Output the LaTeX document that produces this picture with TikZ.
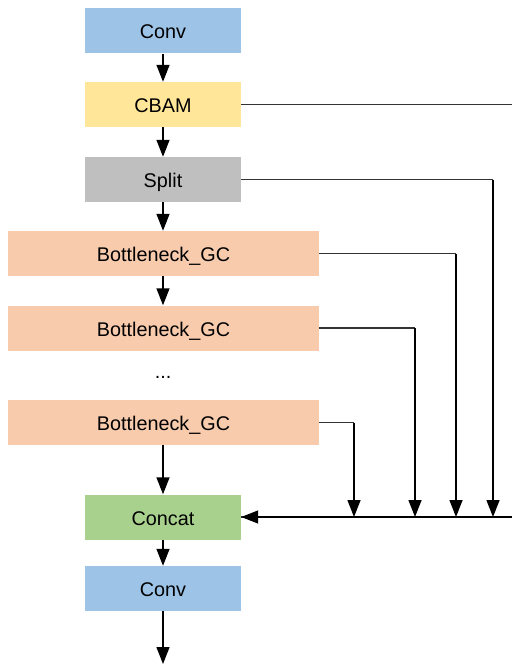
\documentclass[tikz,border=0pt]{standalone}
\usepackage{fontspec}
\setmainfont{Liberation Sans}
\usetikzlibrary{arrows.meta}
\definecolor{cblue}{HTML}{9DC3E6}
\definecolor{cyellow}{HTML}{FFE699}
\definecolor{cgrey}{HTML}{BFBFBF}
\definecolor{cpeach}{HTML}{F8CBAD}
\definecolor{cgreen}{HTML}{A9D18E}
\definecolor{cline}{HTML}{333333}
\tikzset{
  blk/.style={draw=none, minimum width=156pt, minimum height=45pt, inner sep=0pt, text height=16pt, text depth=0pt, font=\fontsize{19.8}{22}\selectfont},
  wide/.style={blk, minimum width=311pt},
  arr/.style={line width=1.4pt, draw=black, -{Triangle[width=13pt,length=17pt]}},
  bus/.style={line width=1.6pt, draw=cline},
}
\begin{document}
\begin{tikzpicture}[x=1pt,y=-1pt]
\useasboundingbox (0,0) rectangle (512,666);
\node[blk, fill=cblue] (conv1) at (163,31) {Conv};
\node[blk, fill=cyellow] (cbam) at (163,104.5) {CBAM};
\node[blk, fill=cgrey] (split) at (163,179.5) {Split};
\node[wide, fill=cpeach] (bn1) at (163.5,253.5) {Bottleneck\_GC};
\node[wide, fill=cpeach] (bn2) at (163.5,328) {Bottleneck\_GC};
\node[font=\fontsize{19.8}{22}\selectfont, inner sep=0pt] (dots) at (163,377) {...};
\node[wide, fill=cpeach] (bn3) at (163.5,422.5) {Bottleneck\_GC};
\node[blk, fill=cgreen] (concat) at (163,517) {Concat};
\node[blk, fill=cblue] (conv2) at (163,588.5) {Conv};
\coordinate (out) at (163,664);
\coordinate (cbamEnd) at (512,104.5);
\coordinate (busEnd) at (512,517);
\coordinate (d1) at (493,517);
\coordinate (d2) at (456,517);
\coordinate (d3) at (415,517);
\coordinate (d4) at (354,517);

\draw[arr] (conv1) -- (cbam);
\draw[arr] (cbam) -- (split);
\draw[arr] (split) -- (split.south |- bn1.north);
\draw[arr] (bn1.south -| split.south) -- (bn2.north -| split.south);
\draw[arr] (bn3.south -| split.south) -- (concat);
\draw[arr] (concat) -- (conv2);
\draw[arr] (conv2) -- (out);

\draw[bus] (cbam.east) -- (cbamEnd);
\draw[bus] (busEnd) -- (concat.east);
\draw[arr] (busEnd) -- (concat.east);
\draw[bus] (split.east) -- (split.east -| d1);
\draw[arr] (split.east -| d1) -- (d1);
\draw[bus] (bn1.east) -- (bn1.east -| d2);
\draw[arr] (bn1.east -| d2) -- (d2);
\draw[bus] (bn2.east) -- (bn2.east -| d3);
\draw[arr] (bn2.east -| d3) -- (d3);
\draw[bus] (bn3.east) -- (bn3.east -| d4);
\draw[arr] (bn3.east -| d4) -- (d4);
\end{tikzpicture}
\end{document}
